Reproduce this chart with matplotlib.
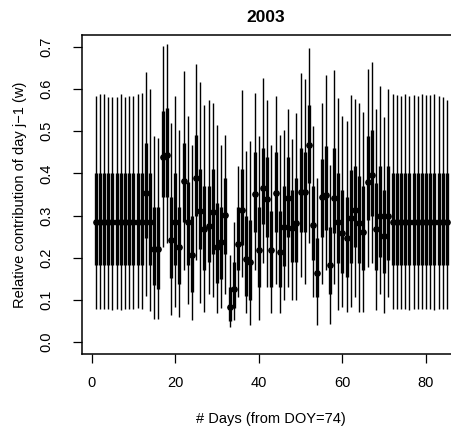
import matplotlib
matplotlib.use("Agg")
import matplotlib.pyplot as plt
import numpy as np

plt.rcParams['font.family'] = ['Liberation Sans', 'DejaVu Sans']

# days 1..85 (from DOY=74)
days = np.arange(1, 86)

# posterior mean of w for each day
w_mean = [0.284] * 12 + [
    0.353, 0.284, 0.221, 0.221, 0.438, 0.444, 0.242, 0.284, 0.226, 0.381,
    0.284, 0.206, 0.390, 0.310, 0.268, 0.275, 0.308, 0.226, 0.238, 0.301,
    0.084, 0.125, 0.232, 0.313, 0.196, 0.189, 0.351, 0.218, 0.365, 0.339,
    0.218, 0.353, 0.214, 0.274, 0.341, 0.270, 0.282, 0.357, 0.356, 0.468,
    0.278, 0.164, 0.343, 0.349, 0.184, 0.342, 0.284, 0.258, 0.246, 0.294,
    0.313, 0.282, 0.262, 0.379, 0.397, 0.268, 0.300, 0.252, 0.300,
] + [0.284] * 14

# 50% interval (thick bar)
w_q25 = [0.183] * 12 + [
    0.246, 0.183, 0.135, 0.125, 0.345, 0.345, 0.151, 0.183, 0.139, 0.285,
    0.183, 0.12, 0.30, 0.22, 0.17, 0.19, 0.21, 0.14, 0.15, 0.21,
    0.05, 0.08, 0.17, 0.23, 0.11, 0.10, 0.26, 0.13, 0.28, 0.25,
    0.13, 0.26, 0.13, 0.18, 0.25, 0.19, 0.19, 0.26, 0.26, 0.377,
    0.195, 0.107, 0.250, 0.266, 0.115, 0.258, 0.187, 0.163, 0.155, 0.187,
    0.226, 0.187, 0.171, 0.290, 0.298, 0.171, 0.202, 0.163, 0.195,
] + [0.183] * 14
w_q75 = [0.401] * 12 + [
    0.472, 0.401, 0.321, 0.321, 0.548, 0.556, 0.345, 0.401, 0.321, 0.472,
    0.38, 0.30, 0.49, 0.41, 0.37, 0.37, 0.41, 0.33, 0.32, 0.39,
    0.13, 0.19, 0.32, 0.41, 0.30, 0.29, 0.45, 0.32, 0.46, 0.44,
    0.31, 0.45, 0.31, 0.37, 0.44, 0.36, 0.39, 0.46, 0.45, 0.561,
    0.369, 0.246, 0.433, 0.464, 0.274, 0.460, 0.401, 0.361, 0.345, 0.409,
    0.417, 0.393, 0.369, 0.488, 0.504, 0.377, 0.417, 0.361, 0.417,
] + [0.401] * 14

# 95% interval (thin line)
w_lo = [0.079, 0.079, 0.078, 0.079, 0.077, 0.079, 0.077, 0.079, 0.079, 0.079, 0.080, 0.079] + [
    0.110, 0.075, 0.056, 0.055, 0.226, 0.234, 0.064, 0.083, 0.060, 0.171,
    0.090, 0.052, 0.195, 0.092, 0.072, 0.115, 0.107, 0.068, 0.080, 0.115,
    0.036, 0.052, 0.107, 0.155, 0.068, 0.040, 0.171, 0.052, 0.187, 0.131,
    0.068, 0.139, 0.068, 0.099, 0.131, 0.099, 0.099, 0.155, 0.139, 0.234,
    0.107, 0.040, 0.139, 0.171, 0.044, 0.139, 0.076, 0.084, 0.072, 0.084,
    0.107, 0.072, 0.072, 0.179, 0.187, 0.076, 0.115, 0.068, 0.107,
] + [0.079, 0.078, 0.079, 0.079, 0.077, 0.079, 0.079, 0.078, 0.079, 0.079, 0.077, 0.079, 0.079, 0.078]
w_hi = [0.583, 0.589, 0.589, 0.581, 0.581, 0.581, 0.587, 0.580, 0.583, 0.583, 0.587, 0.590] + [
    0.640, 0.600, 0.488, 0.484, 0.702, 0.706, 0.520, 0.583, 0.504, 0.643,
    0.536, 0.468, 0.659, 0.617, 0.561, 0.573, 0.566, 0.514, 0.468, 0.490,
    0.207, 0.286, 0.418, 0.597, 0.452, 0.476, 0.591, 0.488, 0.627, 0.574,
    0.468, 0.583, 0.490, 0.504, 0.553, 0.482, 0.544, 0.637, 0.623, 0.697,
    0.512, 0.389, 0.568, 0.633, 0.421, 0.645, 0.579, 0.537, 0.524, 0.585,
    0.577, 0.568, 0.545, 0.648, 0.663, 0.552, 0.606, 0.534, 0.600,
] + [0.587, 0.585, 0.584, 0.589, 0.584, 0.586, 0.583, 0.587, 0.586, 0.586, 0.587, 0.583, 0.580, 0.575]

fig = plt.figure(figsize=(4.51, 4.30), dpi=100)
# plot region runs past the right edge of the picture (as in the original)
ax = fig.add_axes([81.7 / 451, 76 / 430, (461 - 81.7) / 451, 319 / 430])

ax.vlines(days, w_lo, w_hi, color='black', linewidth=1.0)
ax.vlines(days, w_q25, w_q75, color='black', linewidth=2.4)
ax.plot(days, w_mean, 'o', color='black', markersize=3.8)

ax.set_xlim(-2.36, 88.36)
ax.set_ylim(-0.028, 0.728)
ax.set_xticks([0, 20, 40, 60, 80])
ax.set_yticks(np.arange(0, 0.71, 0.1))
ax.set_yticklabels(['0.0', '0.1', '0.2', '0.3', '0.4', '0.5', '0.6', '0.7'],
                   rotation=90, va='center')
ax.tick_params(direction='out', length=6.5, width=0.9, labelsize=10.5, pad=9)
ax.tick_params(axis='y', pad=14)
for s in ax.spines.values():
    s.set_linewidth(1.1)

ax.set_xlabel('# Days (from DOY=74)', fontsize=10.5, labelpad=16)
ax.set_ylabel('Relative contribution of day j\u22121 (w)', fontsize=10.5, labelpad=9)
fig.text(266 / 451, 1 - 17 / 430, '2003', ha='center', va='center',
         fontsize=12.5, fontweight='bold')

fig.savefig('out.png', dpi=100)
